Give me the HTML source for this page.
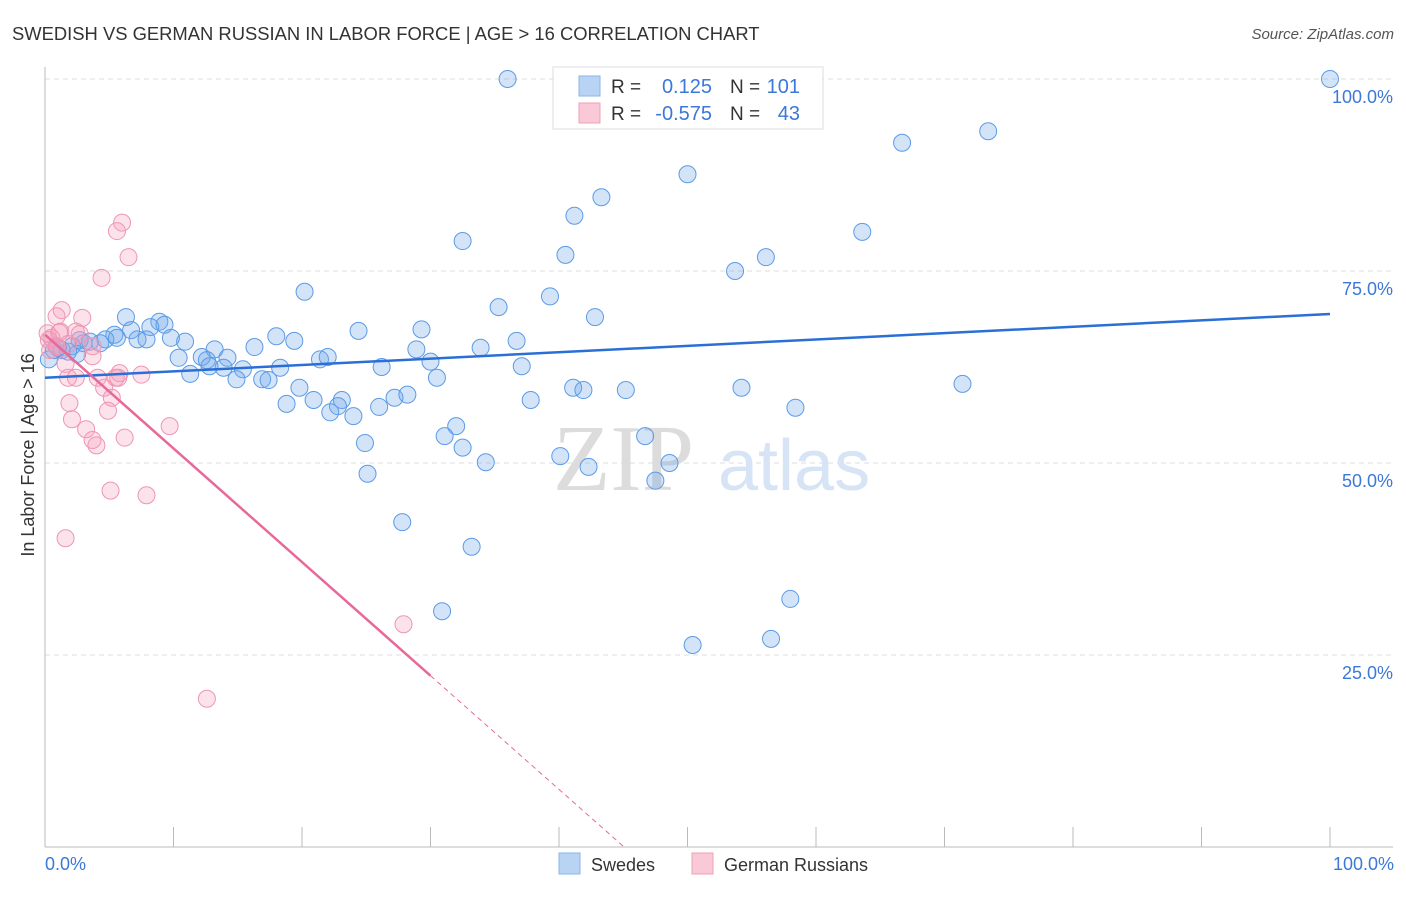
<!DOCTYPE html>
<html><head><meta charset="utf-8"><style>
body{margin:0;background:#fff;font-family:"Liberation Sans",sans-serif;}
svg text{font-family:"Liberation Sans",sans-serif;}
</style></head><body>
<svg id="chart" width="1406" height="892" xmlns="http://www.w3.org/2000/svg">
<text x="12" y="40" font-size="18.4" fill="#333">SWEDISH VS GERMAN RUSSIAN IN LABOR FORCE | AGE &gt; 16 CORRELATION CHART</text>
<text x="1394" y="39" font-size="15" fill="#555" font-style="italic" text-anchor="end">Source: ZipAtlas.com</text>
<g id="grid"></g>
<text x="553" y="490" font-size="94" fill="#dcdcdc" style="font-family:'Liberation Serif',serif">ZIP</text>
<text x="718" y="490" font-size="72" fill="#d6e4f5">atlas</text>
<g id="axes"></g>
<g id="pts"></g>
<g id="trend"></g>
<text x="34" y="455" font-size="18" fill="#333" text-anchor="middle" transform="rotate(-90 34 455)">In Labor Force | Age &gt; 16</text>
<text x="45" y="870" font-size="18" fill="#3b78d8">0.0%</text>
<text x="1394" y="870" font-size="18" fill="#3b78d8" text-anchor="end">100.0%</text>
<g>
<rect x="553" y="67" width="270" height="62" fill="#fff" stroke="#ddd"/>
<rect x="579" y="76" width="21" height="20" fill="#b9d3f5" stroke="#8ab4ea"/>
<rect x="579" y="103" width="21" height="20" fill="#f9c9d7" stroke="#f0a0b8"/>
<text x="611" y="93" font-size="19" fill="#333">R =</text><text x="712" y="93" font-size="20" fill="#3b78d8" text-anchor="end">0.125</text>
<text x="730" y="93" font-size="19" fill="#333">N =</text><text x="800" y="93" font-size="20" fill="#3b78d8" text-anchor="end">101</text>
<text x="611" y="120" font-size="19" fill="#333">R =</text><text x="712" y="120" font-size="20" fill="#3b78d8" text-anchor="end">-0.575</text>
<text x="730" y="120" font-size="19" fill="#333">N =</text><text x="800" y="120" font-size="20" fill="#3b78d8" text-anchor="end">43</text>
</g>
<g>
<rect x="559" y="853" width="21" height="21" fill="#b9d3f5" stroke="#8ab4ea"/>
<text x="591" y="871" font-size="18" fill="#333">Swedes</text>
<rect x="692" y="853" width="21" height="21" fill="#f9c9d7" stroke="#f0a0b8"/>
<text x="724" y="871" font-size="18" fill="#333">German Russians</text>
</g>
</svg>
<script>
const yTicks=[25,50,75,100];
const yTickLabels=["25.0%","50.0%","75.0%","100.0%"];
const xTicks=[0,10,20,30,40,50,60,70,80,90,100];
const blueX=[36.0,47.9,100,73.4,66.7,50.0,43.3,41.2,32.5,63.6,40.5,53.7,56.1,20.2,35.3,39.3,42.8,6.3,24.4,29.3,36.7,18.0,8.9,9.3,8.2,6.7,5.4,7.2,7.9,4.7,5.6,10.9,9.8,2.7,3.5,4.3,2.1,1.3,1.8,13.2,16.3,19.4,33.9,28.9,10.4,12.2,12.6,14.2,21.4,22.0,30.0,11.3,12.8,13.9,15.4,16.9,17.4,18.3,14.9,26.2,37.1,30.5,19.8,41.1,41.9,45.2,54.2,71.4,18.8,20.9,23.1,22.8,22.2,24.0,26.0,27.2,28.2,37.8,58.4,32.0,46.7,31.1,24.9,32.5,40.1,34.3,42.3,48.6,47.5,25.1,27.8,33.2,30.9,58.0,56.5,50.4,0.7,1.0,0.3,2.5,3.0];
const blueY=[100,100,100,93.2,91.7,87.6,84.6,82.2,78.9,80.1,77.1,75.0,76.8,72.3,70.3,71.7,69.0,69.0,67.2,67.4,65.9,66.5,68.4,68.0,67.7,67.3,66.7,66.1,66.1,66.1,66.3,65.8,66.3,66.0,65.8,65.6,65.2,64.7,64.5,64.8,65.1,65.9,65.0,64.8,63.7,63.8,63.4,63.7,63.5,63.8,63.2,61.6,62.6,62.4,62.2,60.9,60.8,62.4,60.9,62.5,62.6,61.1,59.8,59.8,59.5,59.5,59.8,60.3,57.7,58.2,58.2,57.4,56.6,56.1,57.3,58.5,58.9,58.2,57.2,54.8,53.5,53.5,52.6,52.0,50.9,50.1,49.5,50.0,47.7,48.6,42.3,39.1,30.7,32.3,27.1,26.3,64.7,65.0,63.5,64.2,65.6];
const pinkX=[6.0,5.6,6.5,4.4,1.3,0.9,2.9,0.2,1.2,2.4,0.5,1.8,3.7,0.4,0.9,1.6,3.7,1.8,2.4,4.1,5.5,7.5,5.8,4.6,5.2,1.9,4.9,2.1,9.7,3.2,3.7,4.0,6.2,5.1,7.9,1.6,27.9,12.6,5.7,0.9,0.3,2.7,1.1];
const pinkY=[81.3,80.2,76.8,74.1,69.9,69.1,68.9,66.9,67.1,67.1,66.3,65.5,65.2,64.7,65.2,62.9,63.9,61.1,61.1,61.1,61.1,61.5,61.7,59.8,58.5,57.8,56.8,55.7,54.8,54.4,53.0,52.3,53.3,46.4,45.8,40.2,29.0,19.3,61.1,65.2,66.0,66.8,67.0];
const blueTrend=[61.1,69.4];
const pinkTrend=[66.7,-1.48];
const X0=45,X1=1330,Y0=847,Y1=79;
const sx=v=>X0+(X1-X0)*v/100, sy=v=>Y0-(Y0-Y1)*v/100;
const NS="http://www.w3.org/2000/svg";
function mk(tag,attrs,parent){const e=document.createElementNS(NS,tag);for(const k in attrs)e.setAttribute(k,attrs[k]);parent.appendChild(e);return e;}
const grid=document.getElementById('grid'),axes=document.getElementById('axes'),pts=document.getElementById('pts'),tr=document.getElementById('trend');
yTicks.forEach((t,i)=>{
 const l=mk('line',{x1:X0,x2:1393,y1:sy(t),y2:sy(t),stroke:'#ddd','stroke-dasharray':'5,4'},grid);
 
 
 const tx=mk('text',{x:1393,y:sy(t)+24,'font-size':18,fill:'#3b78d8','text-anchor':'end'},grid);
 tx.textContent=yTickLabels[i];
 
 
});
const ya=mk('line',{x1:X0,x2:X0,y1:67,y2:Y0,stroke:'#bbb'},axes);


const xa=mk('line',{x1:X0,x2:1393,y1:Y0,y2:Y0,stroke:'#bbb'},axes);


xTicks.forEach(t=>{
 const l=mk('line',{x1:sx(t),x2:sx(t),y1:827,y2:Y0,stroke:'#bbb'},axes);
 
 
});
blueX.forEach((x,i)=>{
 const c=mk('circle',{cx:sx(x),cy:sy(blueY[i]),r:8.5,fill:'rgba(110,165,235,0.3)',stroke:'#5b9be6','stroke-width':1},pts);
 
 
});
pinkX.forEach((x,i)=>{
 const c=mk('circle',{cx:sx(x),cy:sy(pinkY[i]),r:8.5,fill:'rgba(245,160,190,0.3)',stroke:'#ee96b4','stroke-width':1},pts);
 
 
});
const bl=mk('line',{x1:sx(0),y1:sy(blueTrend[0]),x2:sx(100),y2:sy(blueTrend[1]),stroke:'#2a6fd6','stroke-width':2.5},tr);


const pEnd=30,zero=-pinkTrend[0]/pinkTrend[1];
const pl=mk('line',{x1:sx(0),y1:sy(pinkTrend[0]),x2:sx(pEnd),y2:sy(pinkTrend[0]+pinkTrend[1]*pEnd),stroke:'#e8689a','stroke-width':2.5},tr);


const pd=mk('line',{x1:sx(pEnd),y1:sy(pinkTrend[0]+pinkTrend[1]*pEnd),x2:sx(zero),y2:sy(0),stroke:'#e8689a','stroke-width':1,'stroke-dasharray':'5,4'},tr);


</script>
</body></html>
